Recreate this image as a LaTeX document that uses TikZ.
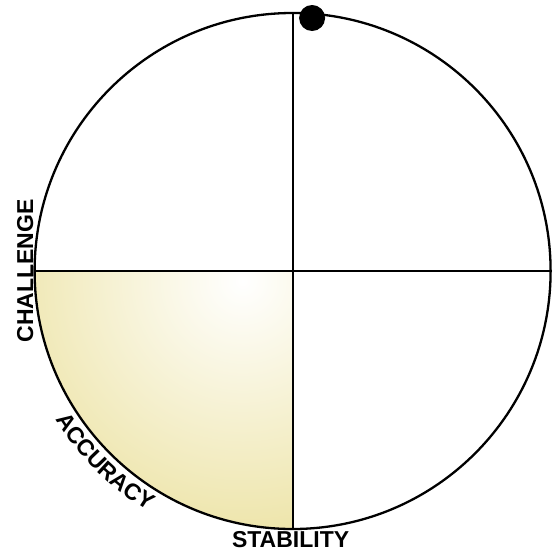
\documentclass[tikz,border=0pt]{standalone}
\usepackage{fontspec}
\setmainfont{Liberation Sans}
\usepackage{xcolor}
\usepackage{tikz}
\usetikzlibrary{calc, decorations.text}
\definecolor{khaki}{RGB}{233,222,148}

\begin{document}
\begin{tikzpicture}[
        x=1pt, y=1pt,
        lbl/.style={font=\fontsize{23}{23}\selectfont\bfseries, inner sep=0pt},
        rim/.style={draw=black, line width=2.3pt},
        axis/.style={draw=black, line width=2pt},
        marker/.style={circle, fill=black, minimum size=26pt, inner sep=0pt}
    ]
    \useasboundingbox (-292.6,-279) rectangle (260.4,271);
    \coordinate (O) at (0,0);
    \coordinate (W) at (180:258);
    \coordinate (E) at (0:258);
    \coordinate (N) at (90:258);
    \coordinate (S) at (270:258);

    \begin{scope}
        \clip (O) -- (W) arc (180:270:258) -- cycle;
        \shade[inner color=white, outer color=khaki] (-50,-10) circle (320);
    \end{scope}

    \draw[axis] (W) -- (E);
    \draw[axis] (N) -- (S);
    \draw[rim] (O) circle (258);

    \node[marker] (dot) at (19.5,253) {};

    \node[lbl, rotate=90, anchor=base] (chal) at (-259.5,0) {CHALLENGE};
    \node[lbl, anchor=base] (stab) at (-2,-276) {STABILITY};
    \path[decorate, decoration={text along path, text align=center,
        text={|\fontsize{23}{23}\selectfont\bfseries|ACCURACY}}]
        (200:280) arc (200:251:280);
\end{tikzpicture}
\end{document}
